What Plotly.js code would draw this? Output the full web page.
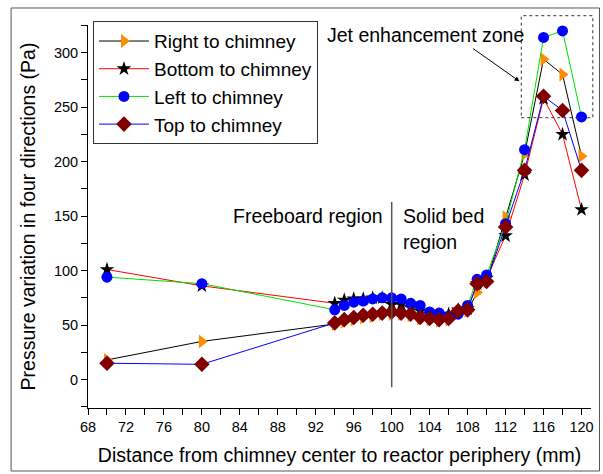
<!DOCTYPE html>
<html>
<head>
<meta charset="utf-8">
<script src="https://cdn.plot.ly/plotly-3.0.1.min.js"></script>
<style>html,body{margin:0;padding:0;background:#fff;}#chart{width:603px;height:474px;}</style>
</head>
<body>
<div id="chart"></div>
<script>
// Distance from chimney center (mm)
const distance = [70, 80, 94, 95, 96, 97, 98, 99, 100, 101, 102, 103, 104, 105, 106, 107, 108, 109, 110, 112, 114, 116, 118, 120];
// Pressure variation (Pa)
const rightToChimney  = [18, 35, 51, 53, 55, 57, 58, 60, 60, 60, 59, 56, 55, 54, 55, 61, 63, 80, 90, 149, 207, 294, 280, 205];
const bottomToChimney = [101, 86, 70, 73, 74, 74, 75, 75, 69, 69, 66, 63, 60, 59, 60, 64, 65, 88, 93, 132, 188, 258, 225, 156];
const leftToChimney   = [94, 88, 64, 68, 71, 72, 74, 75, 75, 74, 70, 68, 62, 61, 58, 60, 68, 92, 96, 143, 211, 314, 320, 241];
const topToChimney    = [15, 14, 52, 55, 57, 59, 60, 61, 62, 61, 60, 57, 56, 55, 56, 63, 64, 88, 90, 140, 192, 260, 247, 192];
const seriesNames = ["Right to chimney", "Bottom to chimney", "Left to chimney", "Top to chimney"];

const FONT = "Liberation Sans, Arial, sans-serif";
const TXT = 19.5;

const traces = [
  {x: distance, y: rightToChimney, name: seriesNames[0], mode: "lines+markers",
   line: {color: "#000000", width: 1}, marker: {symbol: "triangle-right", size: 12, color: "#FF8C00"}},
  {x: distance, y: bottomToChimney, name: seriesNames[1], mode: "lines+markers",
   line: {color: "#FF0000", width: 1}, marker: {symbol: "star", size: 11, color: "#000000"}},
  {x: distance, y: leftToChimney, name: seriesNames[2], mode: "lines+markers",
   line: {color: "#00E000", width: 1}, marker: {symbol: "circle", size: 11, color: "#0000FF"}},
  {x: distance, y: topToChimney, name: seriesNames[3], mode: "lines+markers",
   line: {color: "#0000FF", width: 1}, marker: {symbol: "diamond", size: 12, color: "#800000"}}
];

const layout = {
  width: 603, height: 474,
  margin: {l: 88, r: 11.5, t: 25, b: 66},
  paper_bgcolor: "#ffffff", plot_bgcolor: "#ffffff",
  font: {family: FONT, color: "#000000", size: 14},
  showlegend: true,
  legend: {x: 0.0099, y: 1.01, xanchor: "left", yanchor: "top",
           bgcolor: "#ffffff", bordercolor: "#333333", borderwidth: 1,
           font: {family: FONT, size: 19, color: "#000"}, itemwidth: 50, tracegroupgap: 0},
  xaxis: {
    range: [68, 121], showgrid: false, zeroline: false, showline: true, linecolor: "#000", linewidth: 1,
    tick0: 68, dtick: 4, ticks: "outside", ticklen: 6, tickcolor: "#000",
    minor: {dtick: 2, ticks: "outside", ticklen: 6, tickcolor: "#000", showgrid: false},
    tickfont: {family: FONT, size: 14.5},
    title: {text: "Distance from chimney center to reactor periphery (mm)", font: {family: FONT, size: TXT}, standoff: 13}
  },
  yaxis: {
    range: [-26.1, 325.4], showgrid: false, zeroline: false, showline: true, linecolor: "#000", linewidth: 1,
    tick0: 0, dtick: 50, ticks: "outside", ticklen: 6, tickcolor: "#000",
    minor: {dtick: 25, ticks: "outside", ticklen: 6, tickcolor: "#000", showgrid: false},
    tickfont: {family: FONT, size: 14.5},
    title: {text: "Pressure variation in four directions (Pa)", font: {family: FONT, size: TXT}, standoff: 13}
  },
  shapes: [
    {type: "line", xref: "x", yref: "y", x0: 100, x1: 100, y0: -7, y1: 163,
     line: {color: "#555555", width: 1.5}},
    {type: "rect", xref: "paper", yref: "paper", x0: 0.8614, x1: 1.0036, y0: 0.758, y1: 1.0243,
     line: {color: "#333333", width: 1, dash: "dot"}},
    {type: "rect", xref: "paper", yref: "paper", x0: -0.1529, x1: 1.0169, y0: -0.1645, y1: 1.0444,
     line: {color: "#555555", width: 1}}
  ],
  annotations: [
    {xref: "x", yref: "y", x: 114.2, y: 316.6, xanchor: "right", yanchor: "middle", showarrow: false,
     text: "Jet enhancement zone", font: {family: FONT, size: TXT}},
    {xref: "x", yref: "y", x: 113.47, y: 273.7, ax: 108.42, ay: 304.7, axref: "x", ayref: "y",
     text: "", showarrow: true, arrowhead: 2, arrowsize: 1, arrowwidth: 1, arrowcolor: "#000"},
    {xref: "x", yref: "y", x: 99.26, y: 149.8, xanchor: "right", yanchor: "middle", showarrow: false,
     text: "Freeboard region", font: {family: FONT, size: TXT}},
    {xref: "x", yref: "y", x: 100.95, y: 149.8, xanchor: "left", yanchor: "middle", showarrow: false,
     text: "Solid bed", font: {family: FONT, size: TXT}},
    {xref: "x", yref: "y", x: 100.95, y: 126, xanchor: "left", yanchor: "middle", showarrow: false,
     text: "region", font: {family: FONT, size: TXT}}
  ]
};

Plotly.newPlot("chart", traces, layout, {displayModeBar: false, staticPlot: true});
</script>
</body>
</html>
